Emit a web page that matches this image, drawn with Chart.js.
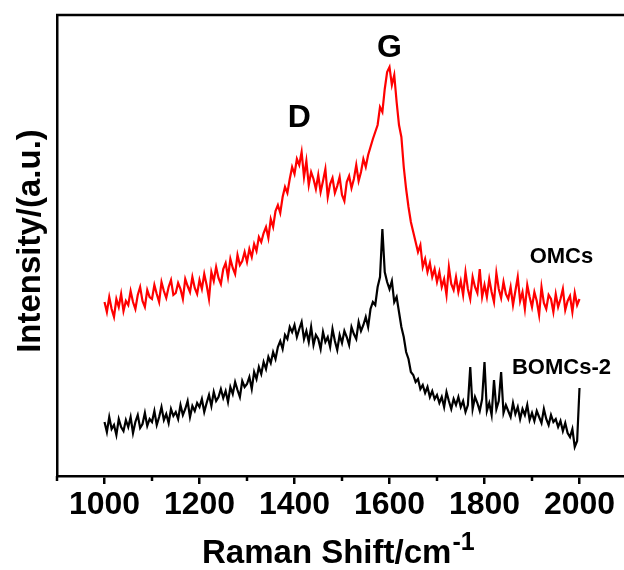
<!DOCTYPE html>
<html>
<head>
<meta charset="utf-8">
<script src="https://cdn.jsdelivr.net/npm/chart.js@4.4.1/dist/chart.umd.min.js"></script>
<style>
html,body{margin:0;padding:0;background:#fff;overflow:hidden;}
#wrap{width:624px;height:570px;position:relative;overflow:hidden;}
</style>
</head>
<body>
<div id="wrap"><canvas id="c" width="629" height="570"></canvas></div>
<script>
// Raman shift axis: 1000..2000 cm-1, step 5
const shiftStart = 1000;
const shiftStep = 5;

// OMCs (red) intensities, a.u.
const omcs = [
 175,165,180,168,160,178,170,183,166,176,
 172,186,175,168,182,190,176,170,187,180,
 178,192,183,175,195,186,179,190,197,182,
 184,194,188,178,198,191,185,200,189,183,
 197,188,203,192,178,205,196,210,199,193,
 208,214,200,218,209,203,222,212,216,225,
 215,228,220,233,226,240,235,244,250,239,
 258,250,266,272,264,280,290,284,298,310,
 303,318,312,325,300,316,292,305,298,288,
 302,285,296,308,280,293,299,284,291,300,
 282,276,295,301,289,298,312,296,305,318,
 310,322,330,338,345,352,370,365,388,405,
 410,392,402,375,352,340,310,288,270,255,
 245,235,225,232,210,218,205,214,200,208,
 195,205,190,198,182,210,193,187,200,185,
 196,182,205,188,178,200,190,184,208,180,
 192,180,198,185,175,204,188,179,195,183,
 178,190,172,186,200,176,185,168,192,180,
 170,185,176,162,190,174,168,182,178,165,
 183,170,178,188,167,176,181,165,184,172,
 178
];

// BOMCs-2 (black) intensities, a.u.
const bomcs2 = [
 55,45,60,48,52,42,58,50,46,57,
 50,60,44,55,62,49,53,64,51,58,
 55,66,52,60,70,57,63,54,68,61,
 65,58,72,62,68,76,60,71,66,74,
 70,78,65,74,82,71,85,76,80,88,
 79,86,75,90,83,95,87,80,96,90,
 93,100,88,105,98,110,103,115,108,120,
 114,125,118,130,136,128,142,138,150,145,
 152,140,148,155,138,146,135,150,132,142,
 138,128,145,135,140,130,148,136,127,142,
 134,146,140,132,150,143,138,155,146,152,
 160,150,168,175,172,190,200,248,205,195,
 188,196,175,180,165,150,140,125,118,105,
 102,95,98,88,92,84,90,80,86,78,
 82,74,80,70,85,76,68,78,72,80,
 70,76,65,72,110,68,80,74,66,78,
 115,66,74,62,97,68,76,105,64,72,
 66,60,74,63,70,58,68,62,72,57,
 64,56,66,60,54,68,58,52,62,55,
 58,50,56,46,54,44,40,48,30,36,
 89
];

const xTickLabels = [1000,1200,1400,1600,1800,2000];
const peakLabels = [
  {text:'D', x:1410, y:359},
  {text:'G', x:1600, y:429}
];
const seriesLabels = [
  {text:'OMCs', x:1962, y:220},
  {text:'BOMCs-2', x:1962, y:109}
];

const toXY = arr => arr.map((v,i)=>({x: shiftStart + i*shiftStep, y: v}));

const FONT = '"Liberation Sans", Arial, sans-serif';

const textPlugin = {
  id:'texts',
  afterDraw(chart){
    const ctx = chart.ctx;
    const xs = chart.scales.x, ys = chart.scales.y;
    const a = chart.chartArea;
    ctx.save();
    ctx.strokeStyle = '#000';
    ctx.lineWidth = 2.5;
    // top frame line
    ctx.beginPath();
    ctx.moveTo(a.left-1, a.top);
    ctx.lineTo(chart.width, a.top);
    ctx.stroke();
    // minor ticks (shorter)
    xs.ticks.forEach(t=>{
      if (xTickLabels.includes(t.value)) return;
      const px = xs.getPixelForValue(t.value);
      ctx.beginPath();
      ctx.moveTo(px, a.bottom);
      ctx.lineTo(px, a.bottom + 5);
      ctx.stroke();
    });
    ctx.fillStyle = '#000';
    ctx.textAlign = 'center';
    ctx.textBaseline = 'middle';
    ctx.font = 'bold 32px ' + FONT;
    peakLabels.forEach(p=>{
      ctx.fillText(p.text, xs.getPixelForValue(p.x), ys.getPixelForValue(p.y));
    });
    ctx.font = 'bold 22px ' + FONT;
    seriesLabels.forEach(p=>{
      ctx.fillText(p.text, xs.getPixelForValue(p.x), ys.getPixelForValue(p.y));
    });
    // x axis title with superscript
    const main = 'Raman Shift/cm', sup = '-1';
    ctx.textAlign = 'left';
    ctx.textBaseline = 'alphabetic';
    ctx.font = 'bold 33px ' + FONT;
    const w1 = ctx.measureText(main).width;
    const sx = 202;
    ctx.fillText(main, sx, 563);
    ctx.font = 'bold 25px ' + FONT;
    ctx.fillText(sup, sx + w1 + 1, 550);
    // y axis title
    ctx.translate(31, 241);
    ctx.rotate(-Math.PI/2);
    ctx.textAlign = 'center';
    ctx.textBaseline = 'middle';
    ctx.font = 'bold 33px ' + FONT;
    ctx.fillText('Intensity/(a.u.)', 0, 0);
    ctx.restore();
  }
};

new Chart(document.getElementById('c'), {
  type:'line',
  data:{
    datasets:[
      {label:'OMCs', data: toXY(omcs), borderColor:'#ff0000', borderWidth:2.2, pointRadius:0, tension:0, fill:false},
      {label:'BOMCs-2', data: toXY(bomcs2), borderColor:'#000000', borderWidth:2.2, pointRadius:0, tension:0, fill:false}
    ]
  },
  options:{
    responsive:false,
    animation:false,
    devicePixelRatio:1,
    layout:{padding:{top:15,right:0,left:0,bottom:0}},
    plugins:{legend:{display:false}, tooltip:{enabled:false}},
    scales:{
      x:{
        type:'linear', min:900, max:2100,
        afterFit(s){ s.height = 94; },
        afterBuildTicks(s){ const t=[]; for(let v=900; v<=2100; v+=100) t.push({value:v}); s.ticks=t; },
        ticks:{
          autoSkip:false, maxRotation:0, padding:2,
          color:'#000', font:{family:FONT, size:32, weight:'bold'},
          callback:(v)=> xTickLabels.includes(v) ? String(v) : ''
        },
        grid:{
          drawOnChartArea:false, drawTicks:true, tickLength:8, lineWidth:2.5, tickWidth:2.5,
          color:'#000',
          tickColor:(c)=> (c.tick && xTickLabels.includes(c.tick.value)) ? '#000' : 'rgba(0,0,0,0)'
        },
        border:{display:true, color:'#000', width:2.5}
      },
      y:{
        type:'linear', min:1, max:462,
        afterFit(s){ s.width = 57; },
        ticks:{display:false},
        grid:{drawOnChartArea:false, drawTicks:false},
        border:{display:true, color:'#000', width:2.5}
      }
    }
  },
  plugins:[textPlugin]
});
</script>
</body>
</html>
